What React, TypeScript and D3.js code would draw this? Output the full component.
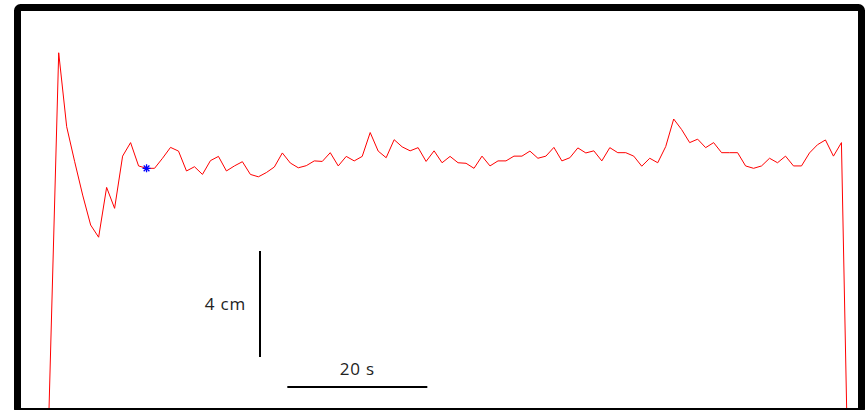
import React from 'react';
import * as d3 from 'd3';

// wave height (cm above the lower edge of the record), one sample every ~1.14 s
const sampleStep = 1.141;
const heightCm = [
  13.48, 10.69, 9.37, 8.11, 6.98, 6.52, 8.4, 7.61, 9.58, 10.09,
  9.21, 9.12, 9.12, 9.5, 9.91, 9.77, 9.02, 9.18, 8.89, 9.41,
  9.57, 9.02, 9.21, 9.37, 8.89, 8.8, 8.96, 9.17, 9.7, 9.32,
  9.14, 9.22, 9.4, 9.38, 9.71, 9.21, 9.57, 9.4, 9.57, 10.47,
  9.77, 9.52, 10.2, 9.93, 9.78, 9.9, 9.38, 9.78, 9.33, 9.57,
  9.33, 9.31, 9.12, 9.58, 9.21, 9.4, 9.4, 9.58, 9.58, 9.77,
  9.5, 9.58, 9.91, 9.4, 9.52, 9.89, 9.7, 9.78, 9.4, 9.9,
  9.71, 9.71, 9.58, 9.2, 9.5, 9.33, 9.94, 10.98, 10.58, 10.09,
  10.22, 9.9, 10.09, 9.71, 9.71, 9.71, 9.21, 9.12, 9.21, 9.5,
  9.33, 9.58, 9.21, 9.21, 9.7, 10.01, 10.19, 9.58, 10.09,
];
// the trace enters and leaves from below the frame
const leadIn = { t: -2.13, cm: -7.2 };
const leadOut = { t: 99 * sampleStep, cm: -5.2 };
const markedIndex = 11;

const barCm = 4;
const barSec = 20;

const W = 868;
const H = 410;

export default function App() {
  const x = d3.scaleLinear().domain([0, 112]).range([58.7, 58.7 + 784]);
  const y = d3.scaleLinear().domain([0, 15]).range([410, 410 - 15 * 26.5]);

  const pts: [number, number][] = [
    [leadIn.t, leadIn.cm],
    ...heightCm.map((v, i) => [i * sampleStep, v] as [number, number]),
    [leadOut.t, leadOut.cm],
  ];
  const line = d3
    .line<[number, number]>()
    .x((d) => x(d[0]))
    .y((d) => y(d[1]));

  const mx = x(markedIndex * sampleStep);
  const my = y(heightCm[markedIndex]);
  const plus = d3.symbol(d3.symbolPlus, 23)();
  const times = d3.symbol(d3.symbolTimes, 23)();

  // scale bars
  const vbT = 28.76;
  const vbLow = 2;
  const hbT = 32.66;
  const hbCm = 0.87;

  return (
    <svg
      width={W}
      height={H}
      style={{ position: 'absolute', left: 0, top: 0, background: '#fff' }}
    >
      <rect width={W} height={H} fill="#fff" />
      <path d={line(pts) || ''} fill="none" stroke="#ff0000" strokeWidth={1} />
      <g transform={`translate(${mx},${my})`} stroke="#0000ff" strokeWidth={1.3} fill="none">
        <path d={plus || ''} />
        <path d={times || ''} />
      </g>

      <line
        x1={x(vbT)}
        x2={x(vbT)}
        y1={y(vbLow)}
        y2={y(vbLow + barCm)}
        stroke="#000"
        strokeWidth={2}
      />
      <text
        x={x(vbT) - 14}
        y={y(vbLow + barCm / 2) + 6}
        textAnchor="end"
        fontFamily="'Open Sans', sans-serif"
        fontSize={17}
        letterSpacing={0.8}
        fill="#222"
      >
        {barCm} cm
      </text>

      <line
        x1={x(hbT)}
        x2={x(hbT + barSec)}
        y1={y(hbCm)}
        y2={y(hbCm)}
        stroke="#000"
        strokeWidth={2}
      />
      <text
        x={x(hbT + barSec / 2)}
        y={y(hbCm) - 12}
        textAnchor="middle"
        fontFamily="'Open Sans', sans-serif"
        fontSize={17}
        letterSpacing={0.8}
        fill="#222"
      >
        {barSec} s
      </text>

      <rect
        x={17.5}
        y={7.5}
        width={844}
        height={404}
        rx={3}
        fill="none"
        stroke="#000"
        strokeWidth={7}
      />
    </svg>
  );
}
